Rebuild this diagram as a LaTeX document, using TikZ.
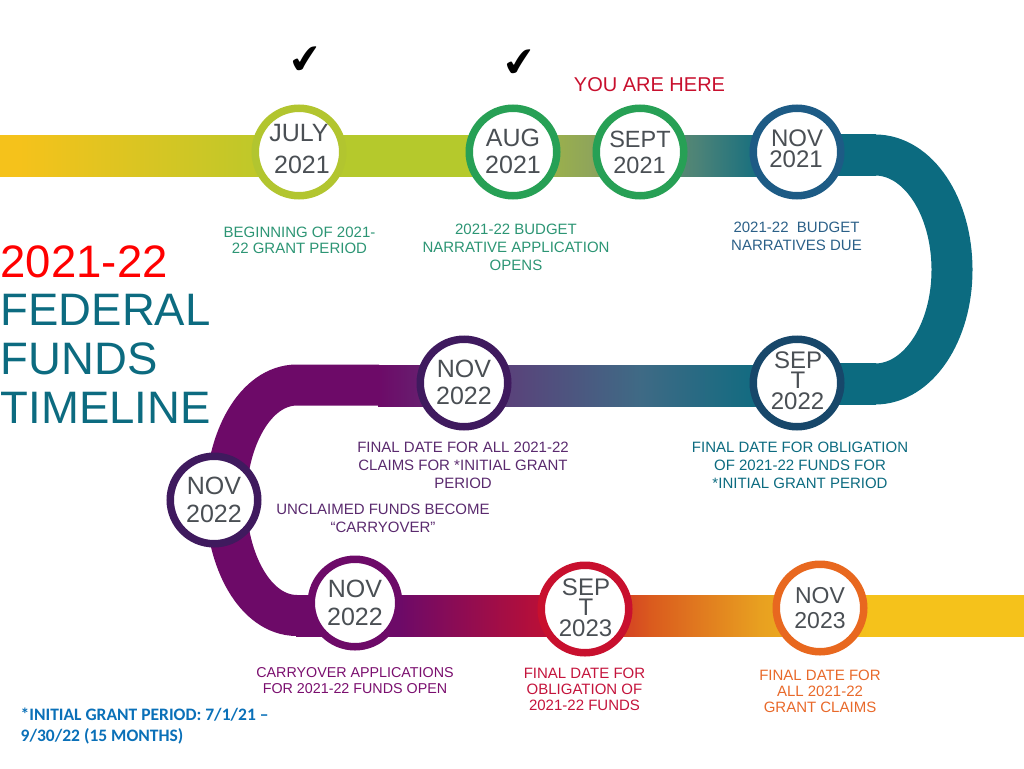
\documentclass[tikz,border=0pt]{standalone}
\usepackage{fontspec}
\setmainfont{Liberation Sans}
\newfontfamily\notefont{Carlito}
\newfontfamily\symfont{DejaVu Sans}
\definecolor{cYellow}{HTML}{F5C21B}
\definecolor{cLime}{HTML}{B5C92C}
\definecolor{cOlive}{HTML}{8FA55A}
\definecolor{cTeal}{HTML}{0C6B80}
\definecolor{cTealMid}{HTML}{4A8278}
\definecolor{cPurple}{HTML}{6D0A68}
\definecolor{cMauve}{HTML}{5F3A78}
\definecolor{cSlate}{HTML}{3F6A85}
\definecolor{cRed}{HTML}{C8102E}
\definecolor{cRust}{HTML}{DA5A1E}
\definecolor{cAmber}{HTML}{E8A020}
\definecolor{cInk}{HTML}{4A4F54}
\definecolor{rJuly}{HTML}{B2C52F}
\definecolor{rGreen}{HTML}{27A055}
\definecolor{rBlue}{HTML}{1D5B85}
\definecolor{rNavy}{HTML}{17476A}
\definecolor{rViolet}{HTML}{3F1A5E}
\definecolor{rOrange}{HTML}{E8681F}
\definecolor{tGreen}{HTML}{2C9574}
\definecolor{tBlue}{HTML}{2B6088}
\definecolor{tViolet}{HTML}{5A2A6E}
\definecolor{tMagenta}{HTML}{7A0E6E}
\definecolor{tCrimson}{HTML}{C4143C}
\definecolor{tOrange}{HTML}{E8692A}
\definecolor{tNote}{HTML}{0A70B8}
\tikzset{
  ring/.style={circle,draw=#1,line width=7.5pt,fill=white,minimum size=87.5pt,inner sep=0pt,outer sep=0pt},
  datetext/.style={font=\fontsize{#1}{#1}\selectfont,align=center,text=cInk,inner sep=0pt},
  caption/.style={font=\fontsize{15}{18}\selectfont,align=center,text=#1,inner sep=0pt},
  tightcaption/.style={font=\fontsize{15}{16}\selectfont,align=center,text=#1,inner sep=0pt},
  smallcaption/.style={font=\fontsize{14.3}{16}\selectfont,align=center,text=#1,inner sep=0pt},
  titleline/.style={font=\fontsize{45.5}{49}\selectfont,anchor=west,inner sep=0pt,text=#1},
  checkmark/.style={font=\symfont\fontsize{36}{36}\selectfont,inner sep=0pt,text=black,rotate=8,xscale=1.15,yscale=1.1},
  bandcurve/.style={line width=41pt,draw=#1}
}
\newcommand{\bandseg}[5]{\fill[left color=#4,right color=#5] (#1,#3-20.5) rectangle (#2,#3+20.5);}
\begin{document}
\begin{tikzpicture}[x=1pt,y=-1pt]
\useasboundingbox (0,0) rectangle (1024,768);
% top band
\bandseg{0}{20}{155.5}{cYellow}{cYellow}
\bandseg{19.5}{300}{155.5}{cYellow}{cLime}
\bandseg{299.5}{470}{155.5}{cLime}{cLime}
\bandseg{469.5}{590}{155.5}{cLime}{cOlive}
\bandseg{589.5}{700}{155.5}{cOlive}{cTealMid}
\bandseg{699.5}{770}{155.5}{cTealMid}{cTeal}
\bandseg{769.5}{876}{155}{cTeal}{cTeal}
% right bend
\coordinate (rt) at (875,155);
\coordinate (rb) at (875,384);
\draw[bandcurve=cTeal] (rt) .. controls (918,155) and (952,206) .. (952,270) .. controls (952,333) and (918,384) .. (rb);
% middle band
\bandseg{378}{480}{386}{cPurple}{cMauve}
\bandseg{479.5}{640}{386}{cMauve}{cSlate}
\bandseg{639.5}{770}{386}{cSlate}{cTeal}
\bandseg{770}{876}{384}{cTeal}{cTeal}
% left bend
\coordinate (lt) at (297,385);
\coordinate (lb) at (297,615.5);
\draw[bandcurve=cPurple] (379,385) -- (lt) .. controls (255,385) and (226,440) .. (226,500) .. controls (226,560) and (255,615.5) .. (lb);
% bottom band
\bandseg{296}{400}{615.5}{cPurple}{cPurple}
\bandseg{399.5}{570}{615.5}{cPurple}{cRed}
\bandseg{569.5}{650}{615.5}{cRed}{cRust}
\bandseg{649.5}{760}{615.5}{cRust}{cAmber}
\bandseg{759.5}{870}{615.5}{cAmber}{cYellow}
\bandseg{869.5}{1024}{615.5}{cYellow}{cYellow}
% rings
\node[ring=rJuly]   (july)   at (299,152) {};
\node[ring=rGreen]  (aug)    at (513,152) {};
\node[ring=rGreen]  (sept)   at (640,152) {};
\node[ring=rBlue]   (nov21)  at (797,152) {};
\node[ring=rNavy]   (sep22)  at (797,383) {};
\node[ring=rViolet] (nov22a) at (464,383) {};
\node[ring=rViolet] (nov22b) at (214,500) {};
\node[ring=cPurple] (nov22c) at (355,603) {};
\node[ring=cRed]    (sep23)  at (585,609) {};
\node[ring=rOrange] (nov23)  at (820,608) {};
% dates
\node[datetext=25] (tjuly1) at (299,133.5) {JULY};
\node[datetext=25] (tjuly2) at (302,165) {2021};
\node[datetext=25] (taug) at (513,138) {AUG};
\node[datetext=25] (taug2) at (513,165) {2021};
\node[datetext=23.5] (tsept) at (640,139) {SEPT};
\node[datetext=23.5] (tsept2) at (639.5,165) {2021};
\node[datetext=24] (tnov21) at (797,138) {NOV};
\node[datetext=24] (tnov21b) at (796,159) {2021};
\node[datetext=24] (tsep22a) at (798,360) {SEP};
\node[datetext=24] (tsep22b) at (798,380) {T};
\node[datetext=24] (tsep22c) at (797.5,401) {2022};
\node[datetext=25] (tn22a) at (464,368.5) {NOV};
\node[datetext=25] (tn22b) at (464,396) {2022};
\node[datetext=25] (tn22c) at (214,486) {NOV};
\node[datetext=25] (tn22d) at (214,514) {2022};
\node[datetext=25] (tn22e) at (355,589) {NOV};
\node[datetext=25] (tn22f) at (355,617) {2022};
\node[datetext=24] (ts23a) at (586,587) {SEP};
\node[datetext=24] (ts23b) at (586,607) {T};
\node[datetext=24] (ts23c) at (585.5,628) {2023};
\node[datetext=23] (tn23a) at (820,596) {NOV};
\node[datetext=23] (tn23b) at (820,621) {2023};
% checks
\node[checkmark] (check1) at (306,61) {✔};
\node[checkmark] (check2) at (519.5,63.5) {✔};
% captions
\node[font=\fontsize{20}{24}\selectfont,text=cRed,inner sep=0pt] (here) at (649.5,85) {YOU ARE HERE};
\node[tightcaption=tGreen] (c1) at (299.5,240) {BEGINNING OF 2021-\\22 GRANT PERIOD};
\node[caption=tGreen] (c2) at (516,247.5) {2021-22 BUDGET\\NARRATIVE APPLICATION\\OPENS};
\node[caption=tBlue] (c3) at (796.5,236.5) {2021-22\ \ BUDGET\\NARRATIVES DUE};
\node[caption=cTeal] (c4) at (800,465.5) {FINAL DATE FOR OBLIGATION\\OF 2021-22 FUNDS FOR\\*INITIAL GRANT PERIOD};
\node[caption=tViolet] (c5) at (463,465.5) {FINAL DATE FOR ALL 2021-22\\CLAIMS FOR *INITIAL GRANT\\PERIOD};
\node[caption=tViolet] (c6) at (383,518.5) {UNCLAIMED FUNDS BECOME\\“CARRYOVER”};
\node[smallcaption=tMagenta] (c7) at (355,680.5) {CARRYOVER APPLICATIONS\\FOR 2021-22 FUNDS OPEN};
\node[tightcaption=tCrimson] (c8) at (584.5,689) {FINAL DATE FOR\\OBLIGATION OF\\2021-22 FUNDS};
\node[tightcaption=tOrange] (c9) at (820,691) {FINAL DATE FOR\\ALL 2021-22\\GRANT CLAIMS};
% title
\node[titleline=red] (t1) at (0.5,262) {2021-22};
\node[titleline=cTeal] (t2) at (0.5,310) {FEDERAL};
\node[titleline=cTeal] (t3) at (0.5,359) {FUNDS};
\node[titleline=cTeal] (t4) at (0.5,408) {TIMELINE};
% note
\node[font=\notefont\bfseries\fontsize{17.5}{21}\selectfont,text=tNote,align=left,anchor=north west,inner sep=0pt] (note) at (20.5,707.5) {*INITIAL GRANT PERIOD: 7/1/21 –\\9/30/22 (15 MONTHS)};
\end{tikzpicture}
\end{document}
